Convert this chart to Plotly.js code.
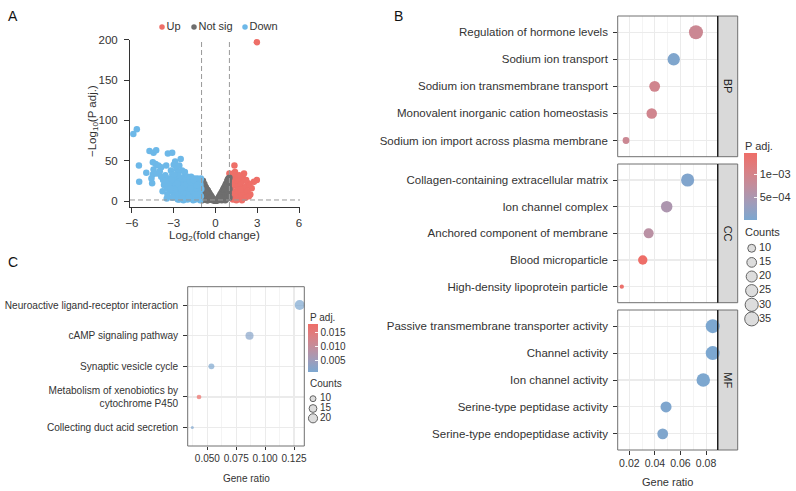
<!DOCTYPE html>
<html><head><meta charset="utf-8">
<script src="https://cdn.plot.ly/plotly-3.0.1.min.js"></script>
<style>html,body{margin:0;padding:0;background:#fff}#chart{width:796px;height:491px}</style>
</head><body><div id="chart"></div>
<script>
// ================= DATA =================
// Panel A : volcano (log2 fold change, -log10 P adj.)
const upX = [2.97,2.97,1.36,1.0,1.1,2.05,2.76,2.35,2.6,1.5,1.73,1.2,1.3,1.4,1.5,1.6,1.7,1.8,1.9,2.0,2.1,2.2,2.3,2.45,2.5,1.05,1.1,1.15,1.2,1.25,1.3,1.35,1.45,1.55,1.65,1.75,1.85,1.95,2.15,1.05,1.15,1.4,1.6,1.8,1.02,2.4,1.9,1.5,1.3,2.2,1.7];
const upY = [197,26,44,34,30,34,24,22,16,30,26,32,25,20,22,18,12,20,24,16,10,18,12,20,8,22,15,8,20,2,12,5,10,6,28,3,8,30,4,4,26,36,14,14,12,6,1,1,34,26,32];
const nsX = [-1,-0.95,-0.9,-0.85,-0.8,-0.75,-0.7,-0.65,-0.6,-0.55,-0.5,-0.45,-0.4,-0.35,-0.3,-0.25,-0.2,-0.15,-0.1,0,0.1,0.15,0.2,0.25,0.3,0.35,0.4,0.45,0.5,0.55,0.6,0.65,0.7,0.75,0.8,0.85,0.9,0.95,1,
  -0.95,-0.9,-0.9,-0.85,-0.8,-0.75,-0.7,-0.65,-0.6,-0.55,-0.5,-0.45,-0.4,-0.3,-0.2,0.2,0.3,0.4,0.45,0.5,0.55,0.6,0.65,0.7,0.75,0.8,0.85,0.9,0.95,0.95,0.9,0.85,1,1,-1,-1,-0.95,0.7,0.8,-0.7,-0.6,0,0.05,-0.05,
  -0.85,-0.75,-0.65,-0.55,0.55,0.65,0.75,0.85,0.95,-0.95,-0.45,0.45,-0.35,0.35];
const nsY = [24,22,25,20,21,18,17,15,14,13,11,10,8,7,6,4,3,2,1,0.5,1,2,3,5,6,8,9,11,12,14,16,17,19,21,22,25,27,28,29,
  15,10,5,12,2,8,12,4,8,1,5,2,4,2,1,1,2,4,1,6,3,9,2,12,6,15,3,18,10,20,8,14,15,4,8,16,1,1,8,3,1,0.2,0.5,0.5,
  17,13,10,8,9,12,15,20,24,19,6,7,4,4];
const downX = [-5.9,-5.65,-5.5,-5.48,-4.97,-4.74,-4.45,-4.26,-4.5,-4.45,-4.5,-4.55,-4.6,-4.3,-4.1,-3.9,-4.0,-3.76,-3.54,-3.42,-3.11,-2.9,-2.5,-3.3,-2.58,-2.23,-3.0,-2.8,-3.2,-2.7,-3.6,-3.9,-4.2,-3.4,-2.4,-2.6,-2.2,-3.1,-3.7,-3.5,-3.2,-2.9,-2.7,-2.9,-3.0,-2.8,-2.5,-2.6,-2.4,-2.3,-2.2,-2.1,-2.0,-1.9,-1.95,-1.8,-1.7,-1.6,-1.55,-1.5,-1.4,-1.35,-1.3,-1.25,-1.2,-1.15,-1.1,-1.05,-1.02,-1.08,-1.45,-1.65,-1.85,-2.05,-2.15,-2.35,-2.45,-2.55,-2.75,-2.85,-3.05,-3.15,-3.35,-3.45,-3.6,-2.0,-1.75,-1.3,-2.25,-2.65,-1.55,-1.9,-2.95,-2.35,-1.1,-1.6,-2.3,-2.6,-1.2,-1.45,-1.7,-2.1,
  -1.05,-1.15,-1.25,-1.35,-1.5,-1.65,-1.8,-1.85,-2.0,-2.1,-2.2,-2.3,-2.45,-2.55,-2.7,-2.75,-2.85,-2.95,-3.1,-3.25,-3.5,-3.8,-1.4,-1.6,-1.9,-2.4];
const downY = [83,89,44,24,35,62,60,63,48,39,33,22,28,46,44,42,37,26,44,59,60,49,52,12,18,30,45,40,38,35,32,30,34,28,38,44,36,33,20,16,22,26,29,18,8,4,10,24,22,15,5,26,30,20,12,3,25,18,8,28,22,14,4,26,18,10,24,6,15,20,2,12,8,18,10,6,28,14,12,20,14,27,20,8,25,2,30,28,25,32,22,27,33,20,1,1,1,2,12,16,9,14,
  28,3,8,20,12,4,16,24,8,4,20,10,16,6,2,22,8,14,4,16,3,12,8,26,5,3];
const volcanoGroups = ["Up","Not sig","Down"];

// Panel B : GO enrichment
const bpTerms = ["Regulation of hormone levels","Sodium ion transport","Sodium ion transmembrane transport","Monovalent inorganic cation homeostasis","Sodium ion import across plasma membrane"];
const bpRatio = [0.0721,0.0547,0.0398,0.0375,0.0174];
const bpCount = [35,26,19,18,8];
const bpPadj  = [8.9e-4,5e-5,9.6e-4,9.6e-4,8.9e-4];

const ccTerms = ["Collagen-containing extracellular matrix","Ion channel complex","Anchored component of membrane","Blood microparticle","High-density lipoprotein particle"];
const ccRatio = [0.0656,0.0492,0.0351,0.0305,0.0141];
const ccCount = [30,22,16,14,6];
const ccPadj  = [6e-5,5.2e-4,6.7e-4,1.48e-3,1.44e-3];

const mfTerms = ["Passive transmembrane transporter activity","Channel activity","Ion channel activity","Serine-type peptidase activity","Serine-type endopeptidase activity"];
const mfRatio = [0.0852,0.0852,0.0778,0.0487,0.0461];
const mfCount = [35,35,32,20,19];
const mfPadj  = [5e-6,1e-5,2e-5,4e-5,5e-5];

const goFacets = ["BP","CC","MF"];
const goPadjTicks = [5e-4,1e-3];
const goPadjTickText = ["5e\u221204","1e\u221203"];
const goCountBreaks = [10,15,20,25,30,35];

// Panel C : KEGG enrichment
const keggTerms = ["Neuroactive ligand-receptor interaction","cAMP signaling pathway","Synaptic vesicle cycle","Metabolism of xenobiotics by<br>cytochrome P450","Collecting duct acid secretion"];
const keggRatio = [0.1299,0.0865,0.0535,0.0428,0.0370];
const keggCount = [24,16,10,8,7];
const keggPadj  = [7.3e-4,2.1e-3,1.0e-3,0.0182,1.2e-3];
const keggPadjTicks = [0.005,0.010,0.015];
const keggCountBreaks = [10,15,20];

// ================= LAYOUT HELPERS =================
const W = 796, H = 491;
const px = v => v / W;
const py = v => 1 - v / H;
const FONT = "Liberation Sans, Arial, Helvetica, sans-serif";
const TXT = "#333333";
const COL = {up:"#EE6F68", ns:"#6E6E6E", down:"#6DB8E8"};
const padjScale = [[0,"#7CA7D0"],[0.25,"#A09CBA"],[0.5,"#C08E9E"],[0.75,"#DB7F83"],[1,"#EE6E68"]];
// ggplot-like area size scale
function sizeScale(c, lim, rng){ const t = Math.max(0,(c-lim[0])/(lim[1]-lim[0])); return rng[0] + (rng[1]-rng[0])*Math.sqrt(t); }
const goLim = [6,35], goRng = [4.3,14];
const kgLim = [7,24], kgRng = [3,10];

const traces = [];
// ---- Panel A ----
[[upX,upY,COL.up],[nsX,nsY,COL.ns],[downX,downY,COL.down]].forEach(([x,y,c])=>{
  traces.push({type:"scatter",mode:"markers",x:x,y:y,xaxis:"x",yaxis:"y",cliponaxis:false,
    marker:{color:c,size:6.5,line:{width:0}},hoverinfo:"skip"});
});
// legend A (helper axis, positions are layout)
traces.push({type:"scatter",mode:"markers+text",x:[162,194,245],y:[0,0,0],xaxis:"x6",yaxis:"y6",
  text:volcanoGroups,textposition:"middle right",textfont:{family:FONT,size:11,color:TXT},
  marker:{color:[COL.up,COL.ns,COL.down],size:5.5},cliponaxis:false,hoverinfo:"skip"});

// ---- Panel B ----
const facetData = [[bpTerms,bpRatio,bpCount,bpPadj,"x2","y2"],[ccTerms,ccRatio,ccCount,ccPadj,"x3","y3"],[mfTerms,mfRatio,mfCount,mfPadj,"x4","y4"]];
facetData.forEach(([t,r,c,p,xa,ya])=>{
  traces.push({type:"scatter",mode:"markers",x:r,y:t,xaxis:xa,yaxis:ya,cliponaxis:false,
    marker:{color:p,coloraxis:"coloraxis",size:c.map(v=>sizeScale(v,goLim,goRng)),line:{width:0},opacity:1},hoverinfo:"skip"});
});
// size legend B
traces.push({type:"scatter",mode:"markers",x:goCountBreaks.map(()=>6.7),y:goCountBreaks.map((_,i)=>i),xaxis:"x7",yaxis:"y7",cliponaxis:false,
  marker:{color:"#D0D0D0",size:goCountBreaks.map(v=>sizeScale(v,goLim,goRng)),line:{color:"#222",width:1}},hoverinfo:"skip"});
traces.push({type:"scatter",mode:"text",x:goCountBreaks.map(()=>14),y:goCountBreaks.map((_,i)=>i),xaxis:"x7",yaxis:"y7",cliponaxis:false,
  text:goCountBreaks.map(String),textposition:"middle right",textfont:{family:FONT,size:11,color:TXT},hoverinfo:"skip"});

// ---- Panel C ----
traces.push({type:"scatter",mode:"markers",x:keggRatio,y:keggTerms,xaxis:"x5",yaxis:"y5",cliponaxis:false,
  marker:{color:keggPadj,coloraxis:"coloraxis2",size:keggCount.map(v=>sizeScale(v,kgLim,kgRng)),line:{width:0}},hoverinfo:"skip"});
traces.push({type:"scatter",mode:"markers",x:keggCountBreaks.map(()=>8),y:keggCountBreaks.map((_,i)=>i),xaxis:"x8",yaxis:"y8",cliponaxis:false,
  marker:{color:"#D0D0D0",size:keggCountBreaks.map(v=>sizeScale(v,kgLim,kgRng)),line:{color:"#222",width:1}},hoverinfo:"skip"});
traces.push({type:"scatter",mode:"text",x:keggCountBreaks.map(()=>15),y:keggCountBreaks.map((_,i)=>i),xaxis:"x8",yaxis:"y8",cliponaxis:false,
  text:keggCountBreaks.map(String),textposition:"middle right",textfont:{family:FONT,size:10,color:TXT},hoverinfo:"skip"});

// ================= AXES =================
const hidden = {visible:false,showgrid:false,zeroline:false,fixedrange:true};
const gridC = "#EBEBEB";
function catAxis(terms, top, bottom, anchor, fsize){
  return {domain:[py(bottom),py(top)],anchor:anchor,type:"category",categoryorder:"array",
    categoryarray:terms.slice().reverse(),range:[-0.6,4.6],showgrid:true,gridcolor:gridC,gridwidth:1.1,
    zeroline:false,showline:false,ticks:"outside",ticklen:3.5,tickwidth:1,tickcolor:"#333",ticklabelstandoff:3,
    tickfont:{family:FONT,size:fsize,color:TXT},fixedrange:true};
}
function ratioAxis(anchor, showLabels){
  return {domain:[px(617.7),px(717.7)],anchor:anchor,range:[0.0109,0.0891],tick0:0,dtick:0.02,tickformat:".2f",
    showgrid:true,gridcolor:gridC,gridwidth:1.1,zeroline:false,showline:false,
    minor:{dtick:0.01,tick0:0,showgrid:true,gridcolor:"#F0F0F0",gridwidth:0.7},
    ticks:showLabels?"outside":"",ticklen:3.5,tickcolor:"#333",showticklabels:showLabels,
    tickfont:{family:FONT,size:10.5,color:TXT},fixedrange:true};
}

const layout = {
  width:W,height:H,margin:{l:0,r:0,t:0,b:0},paper_bgcolor:"#fff",plot_bgcolor:"#fff",
  showlegend:false,hovermode:false,font:{family:FONT,color:TXT},
  // Panel A
  xaxis:{domain:[px(130),px(300)],anchor:"y",range:[-6.14,6.07],tickvals:[-6,-3,0,3,6],
    showline:true,linecolor:"#333",linewidth:1,ticks:"outside",ticklen:5,tickcolor:"#333",
    showgrid:false,zeroline:false,tickfont:{family:FONT,size:11.5,color:TXT},fixedrange:true},
  yaxis:{domain:[py(207),py(39.5)],anchor:"x",range:[-7.4,200.3],tickvals:[0,50,100,150,200],
    showline:true,linecolor:"#333",linewidth:1,ticks:"outside",ticklen:5,tickcolor:"#333",ticklabelstandoff:4,
    showgrid:false,zeroline:false,tickfont:{family:FONT,size:11.5,color:TXT},fixedrange:true},
  // Panel B
  xaxis2:ratioAxis("y2",false), yaxis2:catAxis(bpTerms,16,156.7,"x2",11.5),
  xaxis3:ratioAxis("y3",false), yaxis3:catAxis(ccTerms,164,302.7,"x3",11.5),
  xaxis4:ratioAxis("y4",true),  yaxis4:catAxis(mfTerms,310,450,"x4",11.5),
  // Panel C
  xaxis5:{domain:[px(187.7),px(304.3)],anchor:"y5",range:[0.033,0.1339],tickvals:[0.05,0.075,0.1,0.125],tickformat:".3f",
    showgrid:true,gridcolor:gridC,gridwidth:1.1,zeroline:false,showline:false,
    minor:{tickvals:[0.0375,0.0625,0.0875,0.1125],showgrid:true,gridcolor:"#F0F0F0",gridwidth:0.7},
    ticks:"outside",ticklen:3,tickcolor:"#333",tickfont:{family:FONT,size:10,color:TXT},fixedrange:true},
  yaxis5:catAxis(keggTerms,286.7,446,"x5",10.1),
  // legend helper axes
  xaxis6:Object.assign({domain:[px(150),px(290)],anchor:"y6",range:[150,290]},hidden),
  yaxis6:Object.assign({domain:[py(34),py(20)],anchor:"x6",range:[-1,1]},hidden),
  xaxis7:Object.assign({domain:[px(745),px(790)],anchor:"y7",range:[0,45]},hidden),
  yaxis7:Object.assign({domain:[py(326),py(241.2)],anchor:"x7",range:[5.5,-0.5]},hidden),
  xaxis8:Object.assign({domain:[px(305),px(340)],anchor:"y8",range:[0,35]},hidden),
  yaxis8:Object.assign({domain:[py(423.2),py(393.8)],anchor:"x8",range:[2.5,-0.5]},hidden),
  coloraxis:{cmin:5e-6,cmax:1.48e-3,colorscale:padjScale,
    colorbar:{x:px(744),xanchor:"left",y:py(186),yanchor:"middle",len:66.6,lenmode:"pixels",thickness:13,
      outlinewidth:0,xpad:0,ypad:0,tickvals:goPadjTicks,ticktext:goPadjTickText,ticks:"inside",ticklen:3,
      tickcolor:"rgba(255,255,255,0.9)",tickfont:{family:FONT,size:11,color:TXT}}},
  coloraxis2:{cmin:7.3e-4,cmax:0.0182,colorscale:padjScale,
    colorbar:{x:px(308.3),xanchor:"left",y:py(347.85),yanchor:"middle",len:47.7,lenmode:"pixels",thickness:10,
      outlinewidth:0,xpad:0,ypad:0,tickvals:keggPadjTicks,tickformat:".3f",ticks:"inside",ticklen:2.5,
      tickcolor:"rgba(255,255,255,0.9)",tickfont:{family:FONT,size:10,color:TXT}}},
  shapes:[],annotations:[]
};

// Panel A reference lines
layout.shapes.push({type:"line",xref:"x",yref:"y domain",x0:-1,x1:-1,y0:0,y1:1,line:{color:"#999",width:1,dash:"5px,3px"}});
layout.shapes.push({type:"line",xref:"x",yref:"y domain",x0:1,x1:1,y0:0,y1:1,line:{color:"#999",width:1,dash:"5px,3px"}});
layout.shapes.push({type:"line",xref:"x domain",yref:"y",x0:0,x1:1,y0:1.3,y1:1.3,line:{color:"#999",width:1,dash:"5px,3px"}});

// Panel borders and strips
[["x2","y2"],["x3","y3"],["x4","y4"],["x5","y5"]].forEach(([xa,ya])=>{
  layout.shapes.push({type:"rect",xref:xa+" domain",yref:ya+" domain",x0:0,x1:1,y0:0,y1:1,line:{color:"#707070",width:1},fillcolor:"rgba(0,0,0,0)"});
});
["y2","y3","y4"].forEach((ya,i)=>{
  layout.shapes.push({type:"rect",xref:"paper",yref:ya+" domain",x0:px(717.7),x1:px(737.7),y0:0,y1:1,line:{color:"#707070",width:1},fillcolor:"#D9D9D9",layer:"below"});
  layout.shapes.push({type:"line",xref:"paper",yref:ya+" domain",x0:px(717.7),x1:px(717.7),y0:0,y1:1,line:{color:"#1a1a1a",width:1.3}});
  layout.annotations.push({xref:"paper",yref:ya+" domain",x:px(727.7),y:0.5,xanchor:"center",yanchor:"middle",text:goFacets[i],showarrow:false,textangle:90,
    font:{family:FONT,size:11,color:"#1a1a1a"}});
});

function ann(x,y,text,opts){ layout.annotations.push(Object.assign({xref:"paper",yref:"paper",x:px(x),y:py(y),text:text,showarrow:false,
  xanchor:"center",yanchor:"middle",font:{family:FONT,size:11,color:TXT}},opts||{})); }
ann(13,16,"A",{font:{family:FONT,size:14,color:"#111"}});
ann(398,16,"B",{font:{family:FONT,size:14,color:"#111"}});
ann(13,262,"C",{font:{family:FONT,size:14,color:"#111"}});
ann(93,121,"\u2212Log<sub>10</sub>(P adj.)",{textangle:-90,font:{family:FONT,size:11.5,color:TXT}});
ann(215,236,"Log<sub>2</sub>(fold change)",{font:{family:FONT,size:11.5,color:TXT}});
ann(667.7,482,"Gene ratio");
ann(246,478,"Gene ratio",{font:{family:FONT,size:10,color:TXT}});
ann(742.5,145.5,"P adj.",{xanchor:"left"});
ann(742.5,232,"Counts",{xanchor:"left"});
ann(307.5,317.7,"P adj.",{xanchor:"left",font:{family:FONT,size:10,color:TXT}});
ann(307.5,383,"Counts",{xanchor:"left",font:{family:FONT,size:10,color:TXT}});

Plotly.newPlot("chart",traces,layout,{staticPlot:true,displayModeBar:false});
</script></body></html>
